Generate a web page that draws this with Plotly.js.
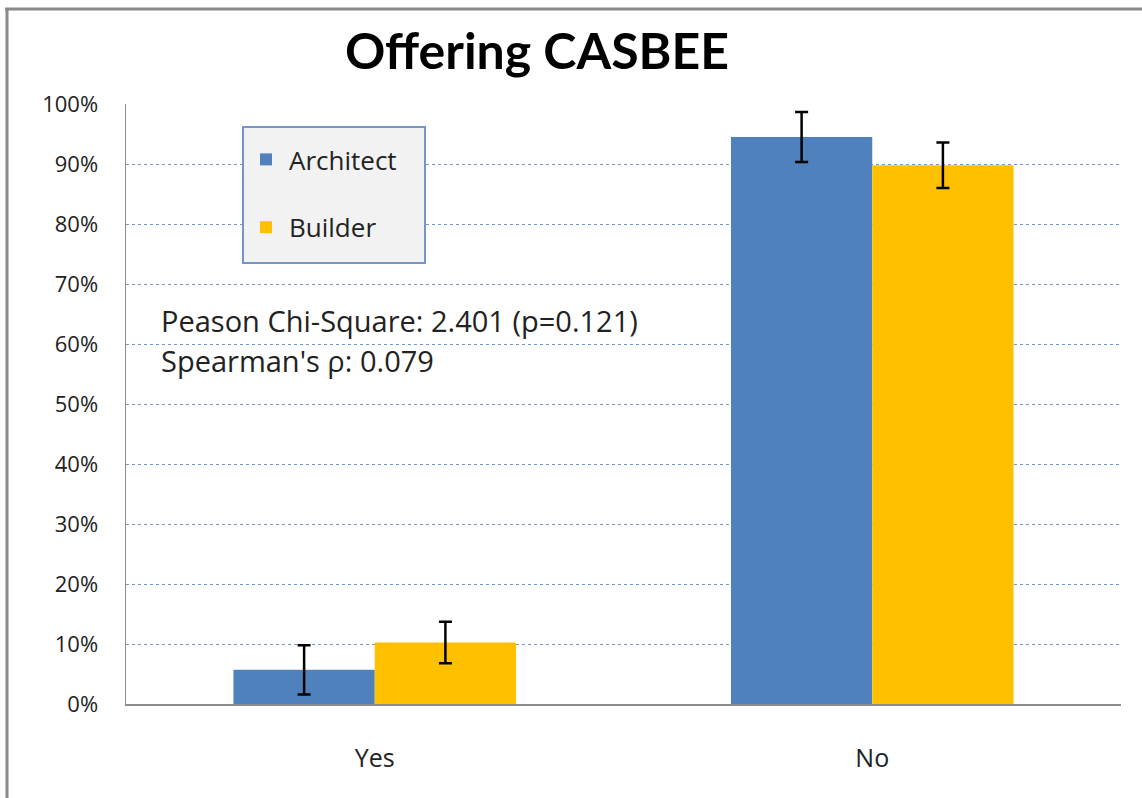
<!DOCTYPE html>
<html>
<head>
<meta charset="utf-8">
<script src="https://cdn.plot.ly/plotly-3.0.1.min.js"></script>
<style>html,body{margin:0;padding:0;background:#fff;}#chart{width:1142px;height:798px;}</style>
</head>
<body>
<div id="chart"></div>
<script>
const categories = ["Yes", "No"];
const seriesNames = ["Architect", "Builder"];
const architectValues = [0.057, 0.945];
const builderValues = [0.1025, 0.898];
const architectErrors = [0.041, 0.0415];
const builderErrors = [0.0345, 0.038];
const yTickValues = [0, 0.1, 0.2, 0.3, 0.4, 0.5, 0.6, 0.7, 0.8, 0.9, 1.0];
const yTickLabels = ["0%", "10%", "20%", "30%", "40%", "50%", "60%", "70%", "80%", "90%", "100%"];
const titleText = "Offering CASBEE";
const statLines = ["Peason Chi-Square: 2.401 (p=0.121)", "Spearman's ρ: 0.079"];

const FONT = "Open Sans, Noto Sans, sans-serif";

function errBar(arr) {
  return {type: "data", array: arr, visible: true, color: "#000000", thickness: 2.5, width: 6.5};
}

const traces = [
  {type: "bar", name: seriesNames[0], x: categories, y: architectValues,
   marker: {color: "#4f81bd"}, error_y: errBar(architectErrors), legendgroup: "a"},
  {type: "bar", name: seriesNames[1], x: categories, y: builderValues,
   marker: {color: "#ffc000"}, error_y: errBar(builderErrors), legendgroup: "b"}
];

const PX = (px) => (px - 126) / 995;
const PY = (py) => (704 - py) / 600;

const layout = {
  width: 1142, height: 798,
  margin: {l: 126, r: 21, t: 104, b: 94},
  paper_bgcolor: "#ffffff", plot_bgcolor: "#ffffff",
  barmode: "group", bargap: 0.432, bargroupgap: 0,
  showlegend: true,
  title: {text: "<b>" + titleText + "</b>", font: {family: "Lato, Open Sans, sans-serif", size: 50, color: "#000"},
          x: 537 / 1142, xanchor: "center", y: 0.935, yanchor: "middle"},
  legend: {x: PX(243), y: PY(136), xanchor: "left", yanchor: "top",
           bgcolor: "rgba(0,0,0,0)", borderwidth: 0,
           font: {family: FONT, size: 26, color: "#222"},
           traceorder: "grouped", tracegroupgap: 31, itemwidth: 36},
  xaxis: {type: "category", showgrid: false, showline: true, linecolor: "#8c8c8c", linewidth: 2,
          ticks: "", ticklabelstandoff: 31, tickfont: {family: FONT, size: 25, color: "#222"},
          zeroline: false, fixedrange: true},
  yaxis: {range: [0, 1], tickvals: yTickValues, ticktext: yTickLabels,
          showgrid: true, gridcolor: "#6f97cc", griddash: "dot", gridwidth: 1,
          showline: true, linecolor: "#8c8c8c", linewidth: 1.5,
          ticks: "", ticklabelstandoff: 22, tickfont: {family: FONT, size: 22, color: "#222"},
          zeroline: false, fixedrange: true},
  annotations: [
    {xref: "paper", yref: "paper", x: PX(159), y: PY(320), xanchor: "left", yanchor: "middle",
     text: statLines[0], showarrow: false, font: {family: FONT, size: 29, color: "#222"}},
    {xref: "paper", yref: "paper", x: PX(159), y: PY(360), xanchor: "left", yanchor: "middle",
     text: statLines[1], showarrow: false, font: {family: FONT, size: 29, color: "#222"}}
  ],
  shapes: [
    {type: "rect", xref: "paper", yref: "paper", x0: PX(243), x1: PX(425), y0: PY(127), y1: PY(263),
     fillcolor: "#f2f2f2", line: {color: "#7396c6", width: 2}, layer: "above"},
    {type: "line", xref: "paper", yref: "paper", x0: PX(5), x1: PX(1142), y0: PY(9), y1: PY(9),
     line: {color: "#8a8a8a", width: 3}},
    {type: "line", xref: "paper", yref: "paper", x0: PX(7), x1: PX(7), y0: PY(8), y1: PY(798),
     line: {color: "#8a8a8a", width: 3}}
  ]
};

Plotly.newPlot("chart", traces, layout, {displayModeBar: false, staticPlot: true});
</script>
</body>
</html>
